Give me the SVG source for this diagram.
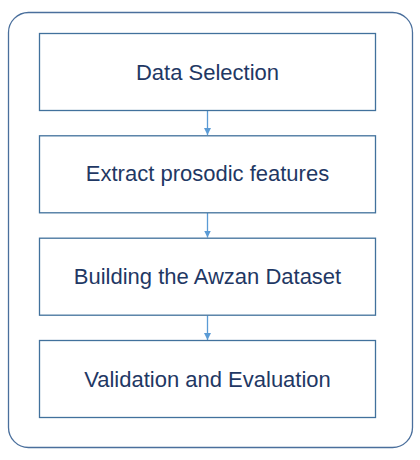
<svg xmlns="http://www.w3.org/2000/svg" width="420" height="460" viewBox="0 0 420 460">
<style>
.box{fill:#ffffff;stroke:#41719C;stroke-width:1.3}
.frame{fill:#ffffff;stroke:#4A6F9C;stroke-width:1.3}
.lbl{font-family:"Liberation Sans",Arial,sans-serif;font-size:22px;fill:#1F3864;text-anchor:middle}
.conn{stroke:#5B9BD5;stroke-width:1.3;fill:none}
</style>
<defs>
<marker id="ah" viewBox="0 0 10 10" refX="10" refY="5" markerWidth="7" markerHeight="7" markerUnits="userSpaceOnUse" orient="auto">
<path d="M0,0 L10,5 L0,10 z" fill="#5B9BD5"/>
</marker>
</defs>
<rect width="420" height="460" fill="#ffffff"/>
<g id="container">
<rect class="frame" x="8.5" y="12.5" width="404" height="435" rx="20" ry="20"/>
</g>
<g id="connectors">
<line class="conn" x1="207.5" y1="110.5" x2="207.5" y2="135" marker-end="url(#ah)"/>
<line class="conn" x1="207.5" y1="213" x2="207.5" y2="237.5" marker-end="url(#ah)"/>
<line class="conn" x1="207.5" y1="315.5" x2="207.5" y2="340" marker-end="url(#ah)"/>
</g>
<g id="node1">
<rect class="box" x="39.5" y="33.5" width="336" height="77"/>
<text class="lbl" x="207.5" y="79.5">Data Selection</text>
</g>
<g id="node2">
<rect class="box" x="39.5" y="135.8" width="336" height="77"/>
<text class="lbl" x="207.5" y="181">Extract prosodic features</text>
</g>
<g id="node3">
<rect class="box" x="39.5" y="238.2" width="336" height="77"/>
<text class="lbl" x="207.5" y="283.5">Building the Awzan Dataset</text>
</g>
<g id="node4">
<rect class="box" x="39.5" y="340.5" width="336" height="77"/>
<text class="lbl" x="207.5" y="386.7">Validation and Evaluation</text>
</g>
</svg>
